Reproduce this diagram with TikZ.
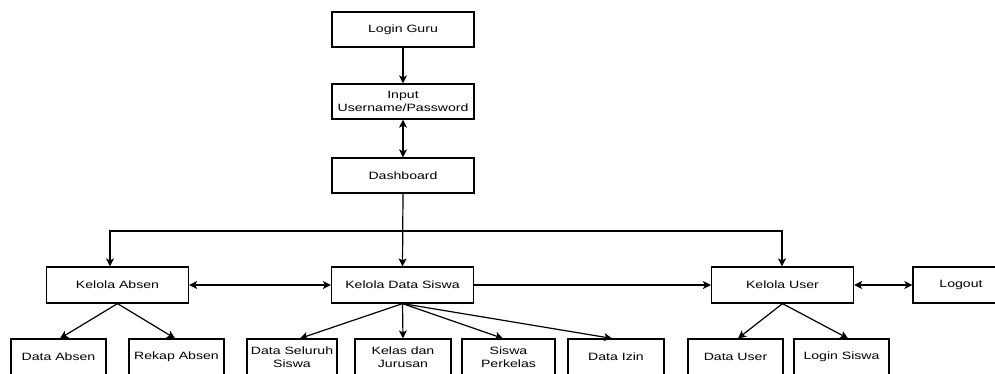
\documentclass[tikz,border=0pt]{standalone}
\usepackage{fontspec}
\setmainfont{Liberation Sans}[FakeStretch=1.33]
\usetikzlibrary{arrows.meta}
\begin{document}
\begin{tikzpicture}[x=1pt,y=-1pt,
  box/.style={draw,line width=1.2pt,rectangle,minimum height=35pt,
    inner sep=0pt,align=center,font=\fontsize{10.6pt}{12.6pt}\selectfont},
  wide/.style={box,minimum width=142pt},
  small/.style={box,minimum width=95pt},
  tip/.tip={Stealth[length=8pt,width=8pt,inset=2pt]},
  link/.style={line width=1.2pt,-tip},
  dlink/.style={line width=1.2pt,tip-tip}]
\useasboundingbox (0,0) rectangle (995,373);
\clip (0,0) rectangle (995,373);

% top column
\node[wide] (login) at (403,29.5) {Login Guru};
\node[wide] (input) at (403,101.5) {Input\\Username/Password};
\node[wide] (dash)  at (403,175.5) {Dashboard};

% main menu row
\node[wide,minimum height=36pt] (ka)  at (117.5,285) {Kelola Absen};
\node[wide,minimum height=36pt] (kds) at (402.5,285) {Kelola Data Siswa};
\node[wide,minimum height=36pt] (ku)  at (782.5,285) {Kelola User};
\node[small,minimum width=96pt,minimum height=36pt] (logout) at (961,285) {Logout};

% sub menu row
\node[small,minimum height=36pt] (da)  at (58.5,357)  {Data Absen};
\node[small,minimum height=36pt] (ra)  at (176.5,357) {Rekap Absen};
\node[small,minimum height=36pt,minimum width=90pt] (dss) at (292,357) {Data Seluruh\\Siswa};
\node[small,minimum height=36pt,minimum width=96pt] (kj)  at (403,357) {Kelas dan\\Jurusan};
\node[small,minimum height=36pt,minimum width=93pt] (sp)  at (508.5,357) {Siswa\\Perkelas};
\node[small,minimum height=36pt,minimum width=96pt] (di)  at (616,357) {Data Izin};
\node[small,minimum height=36pt] (du)  at (735.5,357) {Data User};
\node[small,minimum height=36pt] (ls)  at (841.5,357) {Login Siswa};

% login flow
\draw[link] (login) -- (input);
\draw[dlink] (input) -- (dash);

% dashboard branches
\coordinate (j)  at (403,231);
\coordinate (jl) at (110,231);
\coordinate (jr) at (782,231);
\draw[link] (dash.south) -- (kds.north);
\draw[link] (j) -- (jl) -- (jl |- ka.north);
\draw[link] (j) -- (jr) -- (jr |- ku.north);

% links between menus
\draw[dlink] (ka) -- (kds);
\draw[link] (kds) -- (ku);
\draw[dlink] (ku) -- (logout);

% sub menus
\draw[link] (ka.south) -- ([xshift=1.5pt]da.north);
\draw[link] (ka.south) -- ([xshift=-1.5pt]ra.north);
\draw[link] (kds.south) -- ([xshift=8pt]dss.north);
\draw[link] (kds.south) -- (kj.north);
\draw[link] (kds.south) -- ([xshift=-5.5pt]sp.north);
\draw[link] (kds.south) -- ([xshift=-4pt]di.north);
\draw[link] (ku.south) -- ([xshift=2.5pt]du.north);
\draw[link] (ku.south) -- ([xshift=6.5pt]ls.north);
\end{tikzpicture}
\end{document}
